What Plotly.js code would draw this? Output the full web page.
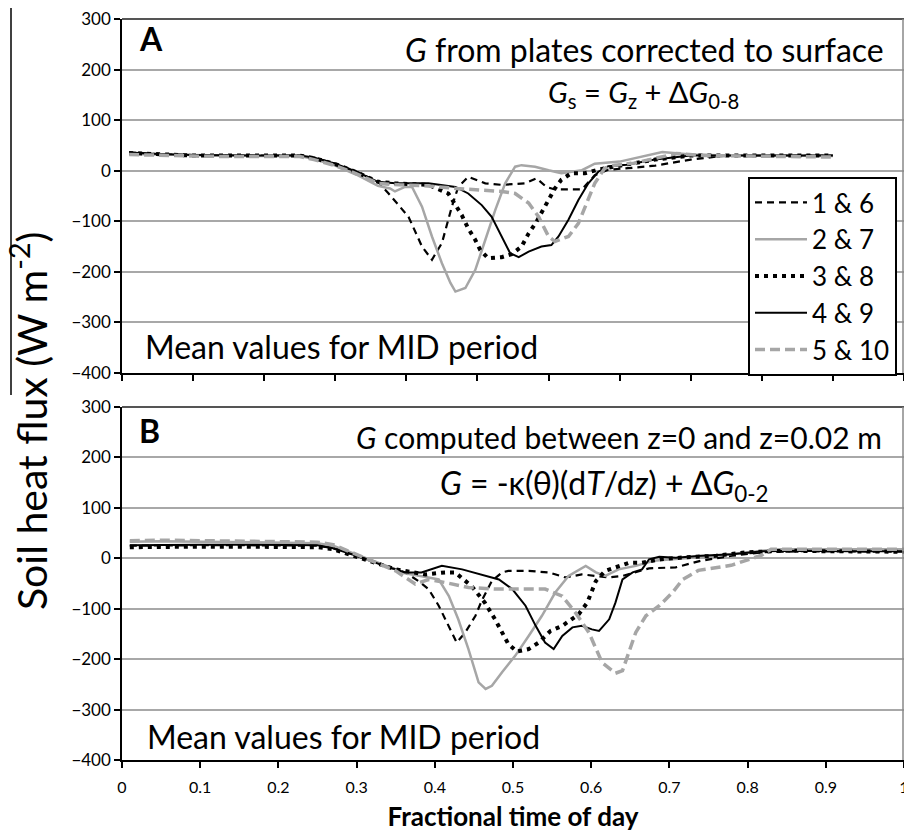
<!DOCTYPE html>
<html>
<head>
<meta charset="utf-8">
<script src="https://cdn.plot.ly/plotly-3.0.1.min.js"></script>
<style>html,body{margin:0;padding:0;background:#fff;}#chart{width:904px;height:832px;}</style>
</head>
<body>
<div id="chart"></div>
<script>
// ---------- DATA ----------
const seriesNames = ["1 & 6", "2 & 7", "3 & 8", "4 & 9", "5 & 10"];

// Panel A: G from plates corrected to surface
const aX1 = [0.01,0.05,0.1,0.15,0.2,0.25,0.27,0.3,0.33,0.36,0.375,0.403,0.422,0.436,0.45,0.464,0.473,0.487,0.511,0.534,0.567,0.583,0.597,0.609,0.647,0.665,0.684,0.712,0.75,0.8,0.85,0.9,0.95,1.0];
const aY1 = [36,33,31,30,30,30,26,14,-2,-22,-45,-91,-150,-176,-143,-71,-32,-12,-25,-28,-25,-15,-32,-37,-37,-9,2,5,10,22,30,30,30,30];

const aX2 = [0.01,0.05,0.1,0.15,0.2,0.25,0.27,0.3,0.33,0.36,0.377,0.384,0.398,0.408,0.422,0.436,0.45,0.462,0.469,0.483,0.497,0.511,0.525,0.539,0.553,0.562,0.581,0.6,0.618,0.647,0.665,0.7,0.73,0.76,0.8,0.85,0.9,0.95,1.0];
const aY2 = [33,32,30,29,29,29,23,10,-8,-30,-35,-41,-32,-32,-71,-130,-183,-222,-239,-232,-196,-137,-78,-25,8,11,8,1,-5,1,14,18,28,37,32,30,30,29,29];

const aX3 = [0.01,0.05,0.1,0.15,0.2,0.25,0.27,0.3,0.33,0.36,0.384,0.431,0.459,0.469,0.478,0.487,0.497,0.504,0.515,0.534,0.548,0.562,0.572,0.583,0.597,0.609,0.618,0.632,0.651,0.67,0.7,0.75,0.8,0.85,0.9,0.95,1.0];
const aY3 = [35,32,30,30,30,30,25,13,-3,-22,-25,-28,-45,-68,-88,-114,-137,-157,-173,-171,-165,-150,-124,-101,-64,-35,-18,-5,-5,2,10,22,30,30,30,30,30];

const aX4 = [0.01,0.05,0.1,0.15,0.2,0.25,0.27,0.3,0.33,0.36,0.384,0.431,0.469,0.487,0.506,0.52,0.534,0.546,0.558,0.572,0.59,0.604,0.614,0.628,0.642,0.656,0.67,0.684,0.71,0.75,0.8,0.85,0.9,0.95,1.0];
const aY4 = [36,33,31,30,30,30,26,14,-2,-22,-25,-25,-32,-45,-68,-91,-130,-163,-171,-160,-150,-147,-130,-97,-58,-25,-2,9,12,22,30,30,30,30,30];

const aX5 = [0.01,0.05,0.1,0.15,0.2,0.25,0.27,0.3,0.33,0.36,0.39,0.43,0.469,0.501,0.534,0.553,0.572,0.586,0.6,0.609,0.628,0.642,0.656,0.665,0.679,0.693,0.72,0.75,0.78,0.82,0.9,0.95,1.0];
const aY5 = [32,30,29,28,28,28,22,10,-6,-25,-28,-30,-35,-38,-41,-45,-64,-91,-130,-140,-130,-104,-58,-25,5,11,15,25,34,30,28,27,27];

// Panel B: G computed between z=0 and z=0.02 m
const bX1 = [0.01,0.05,0.1,0.15,0.2,0.25,0.27,0.3,0.33,0.35,0.362,0.379,0.392,0.405,0.418,0.428,0.439,0.452,0.46,0.473,0.486,0.494,0.52,0.546,0.567,0.588,0.606,0.623,0.64,0.657,0.674,0.708,0.74,0.78,0.82,0.87,0.92,0.96,1.0];
const bY1 = [25,26,26,26,26,25,20,5,-12,-22,-28,-45,-61,-94,-134,-167,-147,-114,-84,-45,-28,-25,-25,-28,-38,-32,-35,-38,-35,-28,-20,-18,-5,5,12,14,14,13,13];

const bX2 = [0.01,0.05,0.1,0.15,0.2,0.25,0.27,0.3,0.33,0.35,0.362,0.392,0.405,0.418,0.43,0.443,0.456,0.465,0.473,0.486,0.503,0.52,0.537,0.554,0.571,0.593,0.606,0.618,0.635,0.657,0.68,0.72,0.76,0.8,0.84,0.9,0.95,1.0];
const bY2 = [33,34,33,32,31,30,25,8,-10,-22,-30,-38,-42,-75,-121,-180,-246,-259,-253,-226,-193,-154,-114,-68,-35,-15,-28,-35,-22,-15,-5,0,5,12,18,18,18,18];

const bX3 = [0.01,0.05,0.1,0.15,0.2,0.25,0.27,0.3,0.33,0.35,0.362,0.388,0.413,0.426,0.447,0.464,0.477,0.494,0.505,0.52,0.533,0.548,0.563,0.584,0.595,0.601,0.606,0.618,0.635,0.648,0.665,0.689,0.72,0.76,0.8,0.85,0.9,0.95,1.0];
const bY3 = [22,23,23,23,23,22,18,3,-12,-22,-25,-32,-28,-28,-55,-88,-121,-170,-185,-180,-167,-144,-134,-111,-88,-65,-45,-25,-15,-9,-9,-2,2,5,12,15,14,13,13];

const bX4 = [0.01,0.05,0.1,0.15,0.2,0.25,0.27,0.3,0.33,0.35,0.362,0.383,0.409,0.435,0.465,0.482,0.499,0.516,0.529,0.541,0.552,0.563,0.576,0.588,0.601,0.61,0.623,0.631,0.64,0.653,0.665,0.674,0.687,0.708,0.74,0.78,0.82,0.87,0.93,1.0];
const bY4 = [26,27,27,27,27,26,20,5,-12,-22,-28,-28,-15,-22,-35,-42,-61,-94,-134,-167,-180,-154,-137,-134,-141,-144,-121,-88,-42,-28,-22,-2,3,1,5,8,14,15,14,14];

const bX5 = [0.01,0.05,0.1,0.15,0.2,0.25,0.27,0.3,0.33,0.35,0.375,0.392,0.413,0.443,0.477,0.512,0.541,0.563,0.58,0.597,0.614,0.631,0.64,0.648,0.657,0.67,0.687,0.704,0.717,0.737,0.779,0.818,0.83,0.87,0.93,1.0];
const bY5 = [35,36,35,34,33,32,27,8,-12,-25,-51,-42,-48,-58,-61,-61,-61,-75,-108,-147,-207,-228,-223,-187,-147,-114,-94,-68,-42,-24,-14,6,18,18,18,18];

const yTicks = [-400,-300,-200,-100,0,100,200,300];
const xTicksA = [0,0.1,0.2,0.3,0.4,0.5,0.6,0.7,0.8,0.9,1.0,1.1];
const xTicksB = [0,0.1,0.2,0.3,0.4,0.5,0.6,0.7,0.8,0.9,1];
const xTickTextB = ["0","0.1","0.2","0.3","0.4","0.5","0.6","0.7","0.8","0.9","1"];

// ---------- STYLE ----------
const styles = [
  {color:"#000000", width:2.2, dash:"7px,5px"},
  {color:"#a6a6a6", width:2.5, dash:"solid"},
  {color:"#000000", width:4, dash:"4px,5px"},
  {color:"#000000", width:2, dash:"solid"},
  {color:"#a6a6a6", width:3.5, dash:"10px,5px"}
];
const FONT = "Lato, 'Open Sans', sans-serif";

const aXs=[aX1,aX2,aX3,aX4,aX5], aYs=[aY1,aY2,aY3,aY4,aY5];
const bXs=[bX1,bX2,bX3,bX4,bX5], bYs=[bY1,bY2,bY3,bY4,bY5];
const traces=[];
for(let i=0;i<5;i++){
  traces.push({x:aXs[i], y:aYs[i], xaxis:"x", yaxis:"y", type:"scatter", mode:"lines",
    name:seriesNames[i], showlegend:true, line:styles[i]});
}
for(let i=0;i<5;i++){
  traces.push({x:bXs[i], y:bYs[i], xaxis:"x2", yaxis:"y2", type:"scatter", mode:"lines",
    name:seriesNames[i], showlegend:false, line:styles[i]});
}

const W=904,H=832,L=122,R=0,T=19,B=72;
const pw=W-L-R, ph=H-T-B;
const px=x=>(x-L)/pw, py=y=>(H-B-y)/ph;

const yaxisBase = {range:[-400,300], tickvals:yTicks, showgrid:true, gridcolor:"#a8a8a8", gridwidth:1.5,
  zeroline:false, showline:true, linecolor:"#000", linewidth:1.5, ticks:"outside", ticklen:6, tickwidth:1.5,
  tickcolor:"#000", tickfont:{family:FONT, size:17, color:"#000"}, fixedrange:true};

function ann(text, x, y, xanchor, size, extra){
  return Object.assign({text:text, xref:"paper", yref:"paper", x:px(x), y:py(y), xanchor:xanchor, yanchor:"middle",
    showarrow:false, font:{family:FONT, size:size, color:"#000"}}, extra||{});
}

const layout = {
  width:W, height:H, margin:{l:L,r:R,t:T,b:B}, paper_bgcolor:"#fff", plot_bgcolor:"#fff",
  font:{family:FONT, color:"#000"},
  showlegend:true,
  legend:{x:px(748), y:py(177), xanchor:"left", yanchor:"top", bgcolor:"#fff", bordercolor:"#000", borderwidth:2,
    font:{family:FONT, size:26, color:"#000"}, tracegroupgap:0, itemwidth:52},
  xaxis:{domain:[0,1], range:[0,1.1], tickvals:xTicksA, showticklabels:false, showgrid:false, zeroline:false,
    showline:true, linecolor:"#000", linewidth:1.5, ticks:"outside", ticklen:6, tickwidth:1.5, tickcolor:"#000", anchor:"y", fixedrange:true},
  yaxis:Object.assign({domain:[py(373),1], anchor:"x"}, yaxisBase),
  xaxis2:{domain:[0,1], range:[0,1], tickvals:xTicksB, ticktext:xTickTextB, showgrid:false, zeroline:false,
    showline:true, linecolor:"#000", linewidth:1.5, ticks:"outside", ticklen:6, tickwidth:1.5, tickcolor:"#000", anchor:"y2",
    tickfont:{family:FONT, size:16, color:"#000"}, ticklabelstandoff:6, ticklabeloverflow:"allow",
    title:{text:"<b>Fractional time of day</b>", font:{family:FONT, size:26, color:"#000"}, standoff:16}, fixedrange:true},
  yaxis2:Object.assign({domain:[0,py(407)], anchor:"x2"}, yaxisBase),
  shapes:[
    {type:"line", xref:"paper", yref:"paper", x0:0, x1:1, y0:1, y1:1, line:{color:"#555", width:2}},
    {type:"line", xref:"paper", yref:"paper", x0:0, x1:1, y0:py(407), y1:py(407), line:{color:"#555", width:2}},
    {type:"line", xref:"paper", yref:"paper", x0:px(903), x1:px(903), y0:py(373), y1:1, line:{color:"#888", width:1.5}},
    {type:"line", xref:"paper", yref:"paper", x0:px(903), x1:px(903), y0:0, y1:py(407), line:{color:"#888", width:1.5}},
    {type:"line", xref:"paper", yref:"paper", x0:px(11), x1:px(11), y0:py(8), y1:py(395), line:{color:"#000", width:1.5}}
  ],
  annotations:[
    ann("<b>A</b>", 137, 38, "left", 32),
    ann("<b>B</b>", 137, 431, "left", 32),
    ann("<i>G</i> from plates corrected to surface", 886, 50, "right", 32),
    ann("<i>G</i><sub>s</sub> = <i>G</i><sub>z</sub> + Δ<i>G</i><sub>0-8</sub>", 643, 93, "center", 29),
    ann("<i>G</i> computed between z=0 and z=0.02 m", 884, 437, "right", 30),
    ann("<i>G</i> = -κ(θ)(d<i>T</i>/d<i>z</i>) + Δ<i>G</i><sub>0-2</sub>", 438, 485, "left", 32),
    ann("Mean values for MID period", 143, 347, "left", 32),
    ann("Mean values for MID period", 145, 736, "left", 32),
    ann("Soil heat flux (W m<sup>-2</sup>)", 29, 421, "center", 41, {textangle:-90})
  ]
};

Plotly.newPlot("chart", traces, layout, {displayModeBar:false});
</script>
</body>
</html>
